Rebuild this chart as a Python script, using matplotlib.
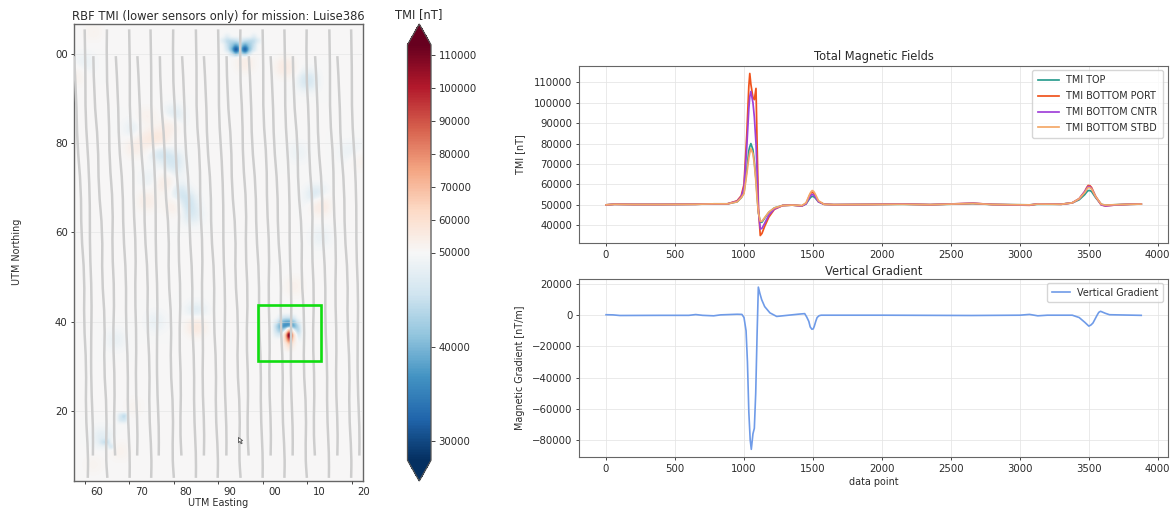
import numpy as np
import matplotlib
matplotlib.use("Agg")
import matplotlib.pyplot as plt
from matplotlib.colors import TwoSlopeNorm
from matplotlib.path import Path
from matplotlib.patches import Rectangle, PathPatch
from matplotlib.ticker import FormatStrFormatter
from matplotlib.transforms import ScaledTranslation

W, H = 1175, 508
TXT = '#2b2b2b'
FS = 7.3
FS_SMALL = 6.9

# ---- map: survey tracks (easting at the start of each line + offset along the line)
long_start_e = [60, 65, 70, 74.8, 79.9, 85, 90, 95, 100, 104.9, 109.9, 115, 119.9]
short_start_e = [57.6, 61.95, 67, 71.85, 76.9, 81.9, 86.8, 91.9, 96.9, 101.8, 106.8, 111.8, 116.8]
long_n = [105.5, 96, 86, 76, 66, 56, 46, 36, 26, 16, 10]
short_n = [99.5, 90, 80, 70, 60, 50, 40, 30, 20, 10, 5]
long_offsets = [
    [0, 0.2, 0.15, 0.85, 1.2, 1.15, 1.6, 1.45, 1.45, 1.9, 1.85],
    [0, -0.15, 0.5, 0.55, 1.4, 1.15, 1.7, 1.35, 1.8, 1.55, 1.85],
    [0, 0.2, 0.1, 0.95, 0.95, 1.55, 1.3, 1.65, 1.45, 1.9, 1.8],
]
short_offsets = [
    [0, 0.55, 0.7, 1.6, 1.6, 2.4, 2.2, 2.8, 2.6, 3.2, 3.1],
    [0, 0.15, 1.1, 1.15, 2.1, 1.9, 2.65, 2.35, 3.05, 2.8, 3.15],
    [0, 0.55, 0.65, 1.6, 1.65, 2.35, 2.25, 2.75, 2.65, 3.15, 3.1],
]

# ---- map: anomalies, (easting, northing, TMI nT)
pale_blue = [(80.3, 86.4, 44000), (79.6, 76.3, 43500), (77, 78.2, 43500), (70.6, 83.4, 47000),
             (82.6, 66.6, 43000), (81.4, 68.8, 44000), (83.7, 64.3, 45000), (109.5, 94.2, 43500),
             (111.6, 68, 42000), (113.3, 58.7, 47500), (84.8, 41.9, 45000), (75.6, 39.8, 47500),
             (66.8, 35.6, 47500), (64, 14.3, 46000), (121.2, 78.5, 47500), (119, 77.8, 48000),
             (75, 71.8, 47500), (108, 78.5, 48000), (59.7, 97.6, 47500), (79.5, 73.5, 46500)]
pale_orange = [(74, 81.2, 58000), (76.6, 80.8, 59000), (71, 79.3, 56000), (74, 86, 54500),
               (79.2, 83.8, 56000), (78.4, 70.7, 58000), (73.6, 67.3, 57000), (79.6, 65.5, 56000),
               (105.4, 97.2, 59000), (96, 98, 57000), (113, 65.8, 59000), (85.2, 39.3, 61000),
               (106.6, 47.9, 55000), (58.2, 95, 54000), (62, 104.7, 53500), (62, 7.5, 53000),
               (68, 11.3, 54000), (71, 21, 53000), (121.5, 75.5, 54000)]
small_spots = [(69, 19, 43000), (65, 13, 43000), (66, 12, 45000), (64, 13, 45000), (68, 18, 46000),
               (69, 18, 45500), (68, 19, 46000)]
top_dipole = [(94, 101, 27000), (96, 101, 28000), (95, 101, 41000), (94, 102, 38000), (96, 102, 38000),
              (94, 100, 40000), (96, 100, 41000), (93, 101, 40000), (97, 101, 41000), (95, 102, 43000),
              (95, 100, 45000), (92, 103, 44000), (98, 103, 44000), (93, 102, 42000), (97, 102, 42000),
              (92, 102, 45000), (98, 102, 45000), (93, 103, 44000), (97, 103, 44000), (92, 101, 46000),
              (98, 101, 46000), (93, 100, 46000), (97, 100, 46000), (94, 103, 45000), (96, 103, 45000),
              (95, 103, 47000), (91, 103, 47000), (99, 103, 47000), (92, 104, 47500), (98, 104, 47500)]
box_dipole = [(104, 41, 47500), (105, 41, 46000), (106, 41, 46000), (107, 41, 47500),
              (103, 40, 47500), (104, 40, 42000), (105, 40, 38500), (106, 40, 38000), (107, 40, 42000), (108, 40, 47500),
              (103, 39, 44000), (104, 39, 37500), (105, 39, 35500), (106, 39, 35500), (107, 39, 38000), (108, 39, 44000),
              (103, 38, 45000), (104, 38, 41500), (105, 38, 46000), (106, 38, 75000), (107, 38, 47000), (108, 38, 43000),
              (103, 37, 47500), (104, 37, 46000), (105, 37, 60000), (106, 37, 135000), (107, 37, 56000), (108, 37, 46000),
              (104, 36, 50000), (105, 36, 60000), (106, 36, 95000), (107, 36, 56000), (108, 36, 48500),
              (105, 35, 54000), (106, 35, 66000), (107, 35, 53000),
              (105, 34, 52000), (106, 34, 57000), (107, 34, 51500)]

box_e = [99.05, 113.15]
box_n = [31.1, 43.7]
cursor_e, cursor_n = 94.4, 14.2

map_yticks = [20, 40, 60, 80, 100]
map_ylabels = ['20', '40', '60', '80', '00']
map_xticks = [60, 70, 80, 90, 100, 110, 120]
map_xlabels = ['60', '70', '80', '90', '00', '10', '20']
cbar_ticks = [30000, 40000, 50000, 60000, 70000, 80000, 90000, 100000, 110000]
tmi_yticks = [40000, 50000, 60000, 70000, 80000, 90000, 100000, 110000]
grad_yticks = [-80000, -60000, -40000, -20000, 0, 20000]

# ---- total magnetic field traces
tmi_x = [0, 60, 200, 400, 650, 780, 880, 950, 980, 1000, 1020, 1035, 1042, 1050, 1065, 1075, 1087, 1095, 1105,
         1118, 1130, 1150, 1180, 1220, 1280, 1350, 1420, 1450, 1475, 1485, 1495, 1505, 1515, 1540, 1580,
         1650, 1900, 2150, 2350, 2660, 2800, 3070, 3130, 3300, 3380, 3430, 3470, 3485, 3495, 3508, 3520, 3550, 3590, 3620, 3700, 3800, 3880]
tmi_top = [50000, 50300, 50200, 50200, 50300, 50500, 50500, 51500, 53500, 56000, 67000, 76500, 78500, 80000, 77000, 71000, 62500, 54500, 46000,
           41500, 41500, 43500, 46300, 48500, 49700, 49900, 49500, 50500, 53000, 53800, 54200, 54000, 53500, 51500, 50300,
           50100, 50200, 50300, 50100, 50600, 50200, 50000, 50300, 50300, 51000, 52500, 55000, 56300, 57000, 57000, 56500, 53500, 50300, 49800, 50100, 50300, 50400]
tmi_port = [50000, 50300, 50200, 50200, 50300, 50500, 50500, 52000, 54500, 60000, 84000, 108000, 114300, 109000, 102500, 101500, 107000, 80000, 48000,
            35000, 36000, 39500, 44000, 47800, 49700, 49900, 49500, 50700, 54500, 55800, 56200, 55800, 54500, 51700, 50300,
            50100, 50200, 50400, 50100, 50800, 50200, 49800, 50500, 50300, 51000, 53000, 56500, 58500, 59500, 59400, 58500, 54000, 50000, 49500, 50000, 50300, 50400]
tmi_cntr = [50000, 50300, 50200, 50200, 50300, 50500, 50500, 51800, 54000, 58500, 78000, 97000, 103000, 105500, 100000, 93000, 80000, 66000, 47000,
            38200, 38500, 41000, 45000, 48000, 49700, 49900, 49500, 50500, 53800, 54700, 55200, 54800, 54000, 51500, 50300,
            50100, 50200, 50400, 50100, 50800, 50200, 49900, 50500, 50300, 51000, 53000, 56500, 58100, 59000, 58900, 58000, 54000, 50000, 49500, 50000, 50300, 50400]
tmi_stbd = [50000, 50300, 50200, 50200, 50300, 50500, 50500, 51500, 53500, 55500, 65000, 73000, 75500, 77500, 75000, 70000, 61000, 53000, 46000,
            42000, 42000, 43800, 46500, 48500, 49700, 49900, 49700, 51000, 55000, 56300, 57000, 56600, 55500, 52000, 50300,
            50100, 50200, 50300, 50100, 50700, 50200, 50000, 50400, 50300, 51000, 53000, 56000, 57600, 58500, 58400, 57800, 54000, 50300, 49900, 50100, 50300, 50400]

# ---- vertical gradient trace
grad_x = [0, 50, 100, 400, 600, 650, 700, 780, 830, 950, 985, 1000, 1015, 1025, 1035, 1045, 1053, 1065, 1075, 1085, 1095, 1104,
          1115, 1128, 1150, 1188, 1237, 1400, 1440, 1455, 1470, 1480, 1492, 1502, 1510, 1520, 1530, 1545, 1560, 2000, 2650, 3000, 3070, 3130, 3200,
          3380, 3430, 3470, 3500, 3515, 3530, 3545, 3560, 3572, 3585, 3620, 3650, 3880]
grad_v = [300, 200, -200, -100, -100, 400, -100, -400, 200, 600, 500, -1500, -10000, -30000, -62000, -80000, -86000, -76000, -72500, -50000, -12000, 18000,
          14000, 10000, 5500, 1500, -800, 700, 1000, -1200, -4000, -7500, -9000, -8800, -7000, -4000, -1500, -300, 0, 0, -200, 0, 500, -400, 0,
          0, -1500, -4500, -7000, -6300, -5000, -2500, 0, 1800, 2500, 1200, 300, -100]

plt.rcParams['font.size'] = FS
plt.rcParams['text.color'] = TXT
plt.rcParams['axes.edgecolor'] = '#666666'
plt.rcParams['axes.labelcolor'] = TXT
plt.rcParams['xtick.color'] = '#444444'
plt.rcParams['ytick.color'] = '#444444'
plt.rcParams['xtick.labelcolor'] = TXT
plt.rcParams['ytick.labelcolor'] = TXT
plt.rcParams['xtick.labelsize'] = FS
plt.rcParams['ytick.labelsize'] = FS


def place(x0, y0, x1, y1):
    return fig.add_axes([x0 / W, 1 - y1 / H, (x1 - x0) / W, (y1 - y0) / H])


def smooth_track(ax, east, north):
    # quadratic segments through midpoints so the track doesn't show kinks
    pts = list(zip(east, north))
    verts = [pts[0]]
    codes = [Path.MOVETO]
    for a, b in zip(pts[1:-1], pts[2:]):
        mid = ((a[0] + b[0]) / 2, (a[1] + b[1]) / 2)
        verts += [a, mid]
        codes += [Path.CURVE3, Path.CURVE3]
    verts.append(pts[-1])
    codes.append(Path.LINETO)
    ax.add_patch(PathPatch(Path(verts, codes), fill=False, ec='#cdcdcd', lw=1.8, zorder=3))


fig = plt.figure(figsize=(W / 100, H / 100), dpi=100)

# left panel
ax = place(74, 24, 362.7, 481)
grid_e = np.arange(56, 125)
grid_n = np.arange(3, 109)
anom = np.zeros((len(grid_n), len(grid_e)))
for e, n, v in pale_blue + pale_orange:
    i, j = int(round(n)) - grid_n[0], int(round(e)) - grid_e[0]
    anom[i - 1:i + 2, j - 1:j + 2] = v - 50000
# soften the pale patches a bit, the sharp dipoles stay as read
kernel = np.ones(3) / 3
for _ in range(2):
    anom = np.apply_along_axis(lambda r: np.convolve(r, kernel, mode='same'), 0, anom)
    anom = np.apply_along_axis(lambda r: np.convolve(r, kernel, mode='same'), 1, anom)
field = 50000 + anom
for e, n, v in small_spots + top_dipole + box_dipole:
    field[n - grid_n[0], e - grid_e[0]] = v

norm = TwoSlopeNorm(vmin=28000, vcenter=50000, vmax=113000)
im = ax.imshow(field, origin='lower', cmap='RdBu_r', norm=norm, interpolation='gaussian', aspect='auto',
               extent=[grid_e[0] - 0.5, grid_e[-1] + 0.5, grid_n[0] - 0.5, grid_n[-1] + 0.5], zorder=1)

for k, e0 in enumerate(long_start_e):
    smooth_track(ax, [e0 + d for d in long_offsets[k % 3]], long_n)
for k, e0 in enumerate(short_start_e):
    smooth_track(ax, [e0 + d for d in short_offsets[k % 3]], short_n)

ax.add_patch(Rectangle((box_e[0], box_n[0]), box_e[1] - box_e[0], box_n[1] - box_n[0], fill=False,
                       ec='#10dd10', lw=1.9, zorder=5))
arrow = Path([(0, 0), (0, -1), (0.25, -0.75), (0.5, -1.2), (0.7, -1.1), (0.45, -0.65), (0.8, -0.6), (0, 0)])
ax.plot([cursor_e], [cursor_n], marker=arrow, ms=9, mfc='white', mec='#555555', mew=0.6, ls='none', zorder=6)

ax.set_xlim(57.6, 122.5)
ax.set_ylim(4.3, 106.7)
ax.set_xticks(map_xticks)
ax.set_xticklabels(map_xlabels)
ax.set_yticks(map_yticks)
ax.set_yticklabels(map_ylabels)
ax.tick_params(length=2.5, width=0.7, pad=2)
shift = ScaledTranslation(12 / 100, 0, fig.dpi_scale_trans)
for lab in ax.get_xticklabels():
    lab.set_transform(lab.get_transform() + shift)
ax.grid(axis='y', color='#dddddd', lw=0.7, alpha=0.45, zorder=2)
ax.set_axisbelow(False)
for s in ax.spines.values():
    s.set_linewidth(1.0)
ax.set_title('RBF TMI (lower sensors only) for mission: Luise386', fontsize=8.3, pad=3)
fig.text(218.3 / W, 1 - 503 / H, 'UTM Easting', ha='center', va='center', fontsize=FS_SMALL)
fig.text(17 / W, 1 - 252 / H, 'UTM Northing', rotation=90, ha='center', va='center', fontsize=FS_SMALL)

cax = place(407.5, 24, 431, 481)
cb = fig.colorbar(im, cax=cax, extend='both', ticks=cbar_ticks)
cb.ax.yaxis.set_major_formatter(FormatStrFormatter('%d'))
cb.ax.minorticks_off()
cb.ax.tick_params(length=3, width=0.7, pad=2.5)
cb.outline.set_edgecolor('#555555')
cb.outline.set_linewidth(0.9)
fig.text(419 / W, 1 - 15 / H, 'TMI [nT]', ha='center', va='center', fontsize=8.3)

# right top
ax1 = place(579.3, 65.7, 1168, 243.3)
ax1.plot(tmi_x, tmi_top, color='#2a9d8f', lw=1.25, label='TMI TOP')
ax1.plot(tmi_x, tmi_port, color='#f0531c', lw=1.25, label='TMI BOTTOM PORT')
ax1.plot(tmi_x, tmi_cntr, color='#a040d8', lw=1.25, label='TMI BOTTOM CNTR')
ax1.plot(tmi_x, tmi_stbd, color='#f4a868', lw=1.25, label='TMI BOTTOM STBD')
ax1.set_xlim(-194, 4074)
ax1.set_ylim(31200, 118100)
ax1.set_yticks(tmi_yticks)
ax1.set_ylabel('TMI [nT]', fontsize=FS_SMALL)
ax1.yaxis.set_label_coords(-0.0922, 0.5)
ax1.set_title('Total Magnetic Fields', fontsize=8.3, pad=4)
ax1.grid(color='#e4e4e4', lw=0.7, alpha=0.8)
ax1.tick_params(length=2.5, width=0.7, pad=2.5)
ax1.legend(loc='upper right', fontsize=FS_SMALL, bbox_to_anchor=(0.9915, 0.975), borderaxespad=0, labelspacing=0.6,
           handlelength=2.2, borderpad=0.55, handletextpad=0.8)

# right bottom
ax2 = place(579.3, 279, 1168, 457.3)
ax2.plot(grad_x, grad_v, color='#6f9be8', lw=1.2, label='Vertical Gradient')
ax2.set_xlim(-194, 4074)
ax2.set_ylim(-91100, 23200)
ax2.set_yticks(grad_yticks)
ax2.set_xlabel('data point', labelpad=2, fontsize=FS_SMALL)
ax2.set_ylabel('Magnetic Gradient [nT/m]', fontsize=FS_SMALL)
ax2.yaxis.set_label_coords(-0.0922, 0.5)
ax2.set_title('Vertical Gradient', fontsize=8.3, pad=3)
ax2.grid(color='#e4e4e4', lw=0.7, alpha=0.8)
ax2.tick_params(length=2.5, width=0.7, pad=2.5)
ax2.legend(loc='upper right', fontsize=FS_SMALL, bbox_to_anchor=(0.9915, 0.975), borderaxespad=0,
           handlelength=1.9, borderpad=0.45, handletextpad=0.8)

fig.savefig('out.png', dpi=100)
